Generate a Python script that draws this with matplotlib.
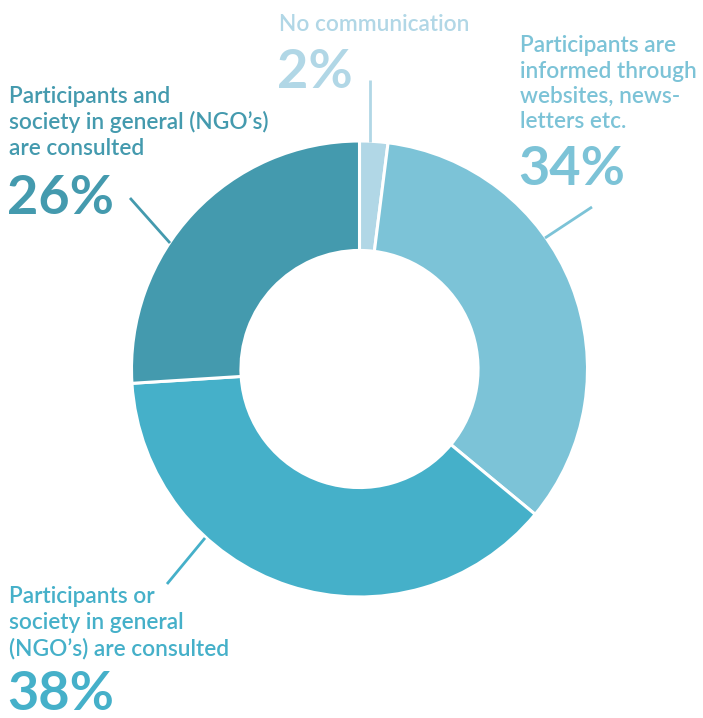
import matplotlib.pyplot as plt

# data
labels = ['No communication',
          'Participants are informed through websites, news-letters etc.',
          'Participants or society in general (NGO\u2019s) are consulted',
          'Participants and society in general (NGO\u2019s) are consulted']
values = [2, 34, 38, 26]
colors = ['#b1d7e6', '#7cc3d7', '#45b0c9', '#449aae']

label_lines = [
  ['No communication'],
  ['Participants are', 'informed through', 'websites, news-', 'letters etc.'],
  ['Participants or', 'society in general', '(NGO\u2019s) are consulted'],
  ['Participants and', 'society in general (NGO\u2019s)', 'are consulted'],
]

W, H = 703, 718
plt.rcParams['font.family'] = ['Lato', 'DejaVu Sans']

fig = plt.figure(figsize=(W / 100, H / 100), dpi=100)
ax = fig.add_axes([0, 0, 1, 1])

def Y(y):
  return H - y

cx, cy, R = 359.5, 369, 228
ax.pie(values, colors=colors, startangle=90, counterclock=False,
       center=(cx, Y(cy)), radius=R, frame=True,
       wedgeprops=dict(width=R * 0.48, edgecolor='white', linewidth=2.2))
ax.set_xlim(0, W)
ax.set_ylim(0, H)
ax.set_aspect('equal')
ax.axis('off')

# label placement: x, first baseline, line step, pct baseline
place = [
  (279, 31, 26, 88),
  (520, 52, 25.5, 185),
  (9, 603, 26, 710),
  (9, 103, 26, 214),
]
for lines, col, (x, y0, step, yp), v in zip(label_lines, colors, place, values):
  for i, ln in enumerate(lines):
    ax.text(x, Y(y0 + i * step), ln, color=col, fontsize=16.3,
            fontweight='semibold', va='baseline', ha='left')
  ax.text(x - 2, Y(yp), '%d%%' % v, color=col, fontsize=39,
          fontweight='bold', va='baseline', ha='left')

# leader lines
leaders = [((370, 80), (370, 142)), ((592, 207), (545, 238)),
           ((205, 538), (167, 584)), ((130, 198), (170, 243))]
for ((x1, y1), (x2, y2)), col in zip(leaders, colors):
  ax.plot([x1, x2], [Y(y1), Y(y2)], color=col, linewidth=2, solid_capstyle='butt')

fig.savefig('out.png', dpi=100)
